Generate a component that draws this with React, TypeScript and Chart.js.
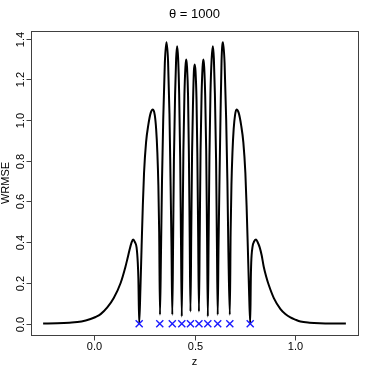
import React, { useEffect, useRef } from "react";
import { Chart, registerables } from "chart.js";

Chart.register(...registerables);

// Curve samples (z, WRMSE)
const zValues: number[] = [
  -0.25, -0.18, -0.12, -0.06, -0.015, 0.01, 0.035, 0.068, 0.1, 0.134, 0.158, 0.168, 0.178, 0.188, 0.196, 0.205, 0.213, 0.219, 0.222, 0.226,
  0.232, 0.238, 0.244, 0.25, 0.26, 0.271, 0.283, 0.294, 0.303, 0.31, 0.316, 0.321, 0.325, 0.329,
  0.334, 0.339, 0.345, 0.353, 0.361, 0.369, 0.376, 0.381, 0.386, 0.39,
  0.394, 0.398, 0.404, 0.409, 0.414, 0.419, 0.424, 0.429, 0.433, 0.437,
  0.441, 0.445, 0.45, 0.455, 0.459, 0.463, 0.468, 0.472, 0.476, 0.48,
  0.484, 0.488, 0.493, 0.497, 0.501, 0.505, 0.51, 0.514, 0.518, 0.522,
  0.526, 0.53, 0.535, 0.54, 0.544, 0.548, 0.553, 0.558, 0.562, 0.566,
  0.57, 0.574, 0.579, 0.585, 0.591, 0.596, 0.601, 0.607, 0.611, 0.615,
  0.619, 0.624, 0.629, 0.634, 0.641, 0.649, 0.657, 0.663, 0.668, 0.675,
  0.679, 0.683, 0.688, 0.694, 0.701, 0.708, 0.719, 0.731, 0.742, 0.752, 0.758, 0.764, 0.77, 0.776,
  0.779, 0.781, 0.787, 0.796, 0.805, 0.813, 0.823, 0.833, 0.843, 0.855, 0.868, 0.893, 0.926, 0.95, 0.975, 1.0, 1.025, 1.07, 1.12, 1.18, 1.25,
];

const wrmseValues: number[] = [
  0.001, 0.002, 0.005, 0.011, 0.023, 0.033, 0.047, 0.08, 0.126, 0.2, 0.28, 0.32, 0.362, 0.398, 0.414, 0.4, 0.375, 0.3, 0.22, 0.002,
  0.17, 0.38, 0.58, 0.74, 0.89, 0.975, 1.035, 1.052, 1.025, 0.955, 0.84, 0.68, 0.45, 0.044,
  0.35, 0.7, 1.0, 1.28, 1.382, 1.29, 1.03, 0.72, 0.38, 0.044,
  0.4, 0.8, 1.13, 1.3, 1.362, 1.3, 1.13, 0.82, 0.42, 0.036,
  0.45, 0.85, 1.12, 1.26, 1.297, 1.26, 1.12, 0.85, 0.45, 0.06,
  0.45, 0.84, 1.1, 1.24, 1.273, 1.24, 1.1, 0.84, 0.45, 0.06,
  0.45, 0.85, 1.12, 1.26, 1.297, 1.26, 1.12, 0.85, 0.45, 0.036,
  0.42, 0.82, 1.13, 1.3, 1.362, 1.3, 1.13, 0.8, 0.4, 0.044,
  0.38, 0.72, 1.03, 1.29, 1.382, 1.28, 1.0, 0.7, 0.35, 0.044,
  0.45, 0.68, 0.84, 0.955, 1.025, 1.052, 1.035, 0.975, 0.89, 0.74, 0.58, 0.38, 0.17, 0.002,
  0.22, 0.3, 0.375, 0.405, 0.414, 0.4, 0.375, 0.335, 0.28, 0.232, 0.19, 0.126, 0.072, 0.048, 0.031, 0.02, 0.011, 0.005, 0.002, 0.001, 0.001,
];

// Design points (blue crosses)
const designZ: number[] = [0.226, 0.328, 0.39, 0.437, 0.48, 0.522, 0.566, 0.615, 0.675, 0.776];
const designY: number[] = [0, 0, 0, 0, 0, 0, 0, 0, 0, 0];

const xTicks: number[] = [0, 0.5, 1];
const xTickLabels: string[] = ["0.0", "0.5", "1.0"];
const yTicks: number[] = [0, 0.2, 0.4, 0.6, 0.8, 1.0, 1.2, 1.4];
const yTickLabels: string[] = ["0.0", "0.2", "0.4", "0.6", "0.8", "1.0", "1.2", "1.4"];

const titleText = "\u03B8 = 1000";
const xLabel = "z";
const yLabel = "WRMSE";

const FONT = '"Liberation Sans", Arial, Helvetica, sans-serif';

const rStylePlugin = {
  id: "rstyle",
  afterDraw(chart: any) {
    const { ctx, chartArea: a } = chart;
    const x = chart.scales.x;
    const y = chart.scales.y;
    ctx.save();
    ctx.strokeStyle = "#404040";
    ctx.lineWidth = 1;
    const l = Math.round(a.left) + 0.5;
    const t = Math.round(a.top) + 0.5;
    const r = Math.round(a.right) + 0.5;
    const b = Math.round(a.bottom) + 0.5;
    ctx.strokeRect(l, t, r - l, b - t);

    ctx.fillStyle = "#000";
    ctx.font = `11px ${FONT}`;
    ctx.textAlign = "center";
    ctx.textBaseline = "middle";

    xTicks.forEach((v, i) => {
      const px = Math.round(x.getPixelForValue(v)) + 0.5;
      ctx.beginPath();
      ctx.moveTo(px, b);
      ctx.lineTo(px, b + 5);
      ctx.stroke();
      ctx.fillText(xTickLabels[i], px, b + 11);
    });
    yTicks.forEach((v, i) => {
      const py = Math.round(y.getPixelForValue(v)) + 0.5;
      ctx.beginPath();
      ctx.moveTo(l - 5, py);
      ctx.lineTo(l, py);
      ctx.stroke();
      ctx.save();
      ctx.translate(l - 11, py);
      ctx.rotate(-Math.PI / 2);
      ctx.fillText(yTickLabels[i], 0, 0);
      ctx.restore();
    });

    ctx.fillText(xLabel, (a.left + a.right) / 2, 362);
    ctx.save();
    ctx.translate(6, (a.top + a.bottom) / 2);
    ctx.rotate(-Math.PI / 2);
    ctx.fillText(yLabel, 0, 0);
    ctx.restore();

    ctx.font = `13px ${FONT}`;
    ctx.fillText(titleText, (a.left + a.right) / 2, 14);
    ctx.restore();
  },
};

export default function App() {
  const canvasRef = useRef<HTMLCanvasElement | null>(null);

  useEffect(() => {
    const canvas = canvasRef.current;
    if (!canvas) return;
    const curve = zValues.map((z, i) => ({ x: z, y: wrmseValues[i] }));
    const points = designZ.map((z, i) => ({ x: z, y: designY[i] }));
    const chart = new Chart(canvas, {
      type: "scatter",
      data: {
        datasets: [
          {
            data: points,
            pointStyle: "crossRot",
            pointRadius: 5,
            borderColor: "#1a1aff",
            backgroundColor: "#1a1aff",
            pointBorderWidth: 1.4,
            showLine: false,
          },
          {
            data: curve,
            showLine: true,
            borderColor: "#000000",
            borderWidth: 2,
            pointRadius: 0,
            cubicInterpolationMode: "monotone",
            fill: false,
          },
        ],
      },
      options: {
        responsive: false,
        animation: false,
        events: [],
        layout: { padding: { left: 31, right: 16, top: 31, bottom: 39 } },
        scales: {
          x: { type: "linear", min: -0.31, max: 1.31, display: false },
          y: { type: "linear", min: -0.0553, max: 1.4369, display: false },
        },
        plugins: {
          legend: { display: false },
          tooltip: { enabled: false },
          title: { display: false },
        },
      },
      plugins: [rStylePlugin],
    });
    return () => chart.destroy();
  }, []);

  return (
    <div style={{ position: "fixed", left: 0, top: 0, width: 374, height: 374, background: "#fff" }}>
      <canvas ref={canvasRef} width={374} height={374} style={{ width: 374, height: 374 }} />
    </div>
  );
}
